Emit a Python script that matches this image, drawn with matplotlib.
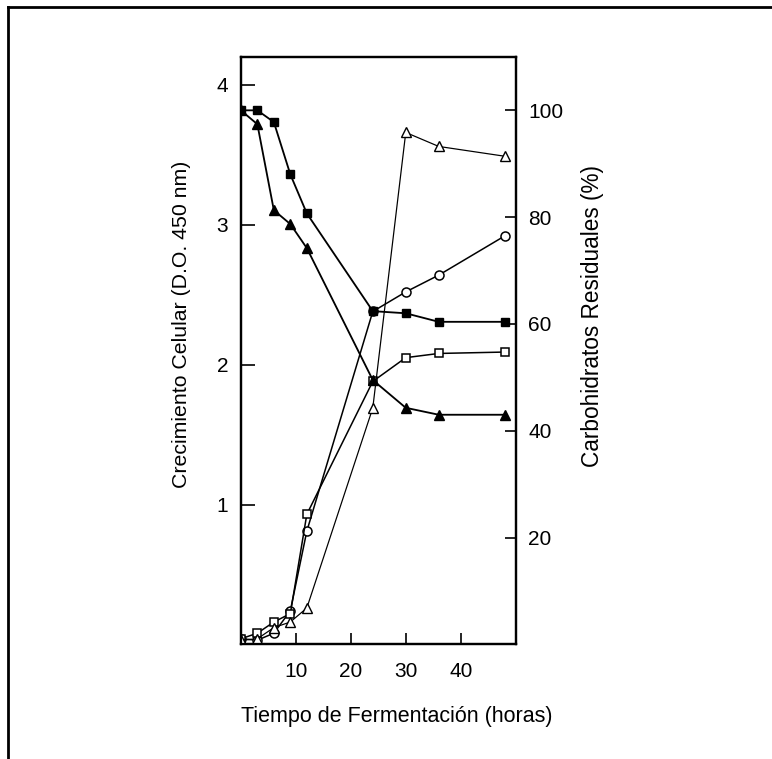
import matplotlib
matplotlib.use("Agg")
import matplotlib.pyplot as plt
from matplotlib.lines import Line2D

plt.rcParams['font.family'] = ['Liberation Sans', 'DejaVu Sans']

# Sampling times (h)
horas = [0, 3, 6, 9, 12, 24, 30, 36, 48]

# Cell growth, optical density at 450 nm (left axis)
do_circulo = [0.04, 0.03, 0.08, 0.24, 0.81, 2.38, 2.52, 2.64, 2.92]
do_cuadro = [0.04, 0.08, 0.16, 0.22, 0.93, 1.88, 2.05, 2.08, 2.09]
do_triangulo = [0.03, 0.04, 0.12, 0.16, 0.26, 1.69, 3.66, 3.56, 3.49]

# Residual carbohydrates, % (right axis)
carb_cuadro = [100, 100, 97.8, 88.0, 80.7, 62.4, 62.0, 60.4, 60.4]
carb_triangulo = [100, 97.4, 81.3, 78.7, 74.2, 49.5, 44.3, 43.0, 43.0]

x_ticks = [10, 20, 30, 40]
y_left_ticks = [1, 2, 3, 4]
y_right_ticks = [20, 40, 60, 80, 100]

fig = plt.figure(figsize=(7.72, 7.59), dpi=100)
ax = fig.add_axes([0.312, 0.151, 0.356, 0.774])
ax2 = ax.twinx()

lw = 1.1
ms = 6.5
ax.plot(horas, do_circulo, '-', color='black', lw=lw, marker='o', ms=ms,
        mfc='white', mec='black', mew=1.1, zorder=3)
ax.plot(horas, do_cuadro, '-', color='black', lw=lw, marker='s', ms=ms - 0.5,
        mfc='white', mec='black', mew=1.1, zorder=3)
ax.plot(horas, do_triangulo, '-', color='black', lw=lw * 0.8, marker='^', ms=ms,
        mfc='white', mec='black', mew=1.0, zorder=3)
ax2.plot(horas, carb_cuadro, '-', color='black', lw=lw * 1.2, marker='s', ms=ms - 0.5,
         mfc='black', mec='black', zorder=3)
ax2.plot(horas, carb_triangulo, '-', color='black', lw=lw * 1.2, marker='^', ms=ms,
         mfc='black', mec='black', zorder=3)

ax.set_xlim(0, 50)
ax.set_ylim(0, 4.2)
ax2.set_ylim(0, 110)

ax.set_xticks(x_ticks)
ax.set_yticks(y_left_ticks)
ax2.set_yticks(y_right_ticks)

for a in (ax, ax2):
    for s in a.spines.values():
        s.set_linewidth(1.6)
        s.set_color('black')

ax.tick_params(axis='x', direction='in', length=8, width=1.2, pad=13, labelsize=15)
ax.tick_params(axis='y', direction='in', length=10, width=1.2, pad=9, labelsize=15)
ax2.tick_params(axis='y', direction='in', length=8, width=1.2, pad=9, labelsize=15)

ax.set_xlabel('Tiempo de Fermentación (horas)', fontsize=15.5)
ax.xaxis.set_label_coords(0.567, -0.105)
ax.set_ylabel('Crecimiento Celular (D.O. 450 nm)', fontsize=15.3)
ax.yaxis.set_label_coords(-0.183, 0.545)
ax2.set_ylabel('Carbohidratos Residuales (%)', fontsize=16.3, rotation=90)
ax2.yaxis.set_label_coords(1.236, 0.559)

# Outer frame: top and left edges only
fig.add_artist(Line2D([8 / 772, 1.0], [1 - 7 / 759, 1 - 7 / 759],
                      transform=fig.transFigure, color='black', lw=2))
fig.add_artist(Line2D([8 / 772, 8 / 772], [0.0, 1 - 7 / 759],
                      transform=fig.transFigure, color='black', lw=2))

fig.savefig('out.png', dpi=100)
